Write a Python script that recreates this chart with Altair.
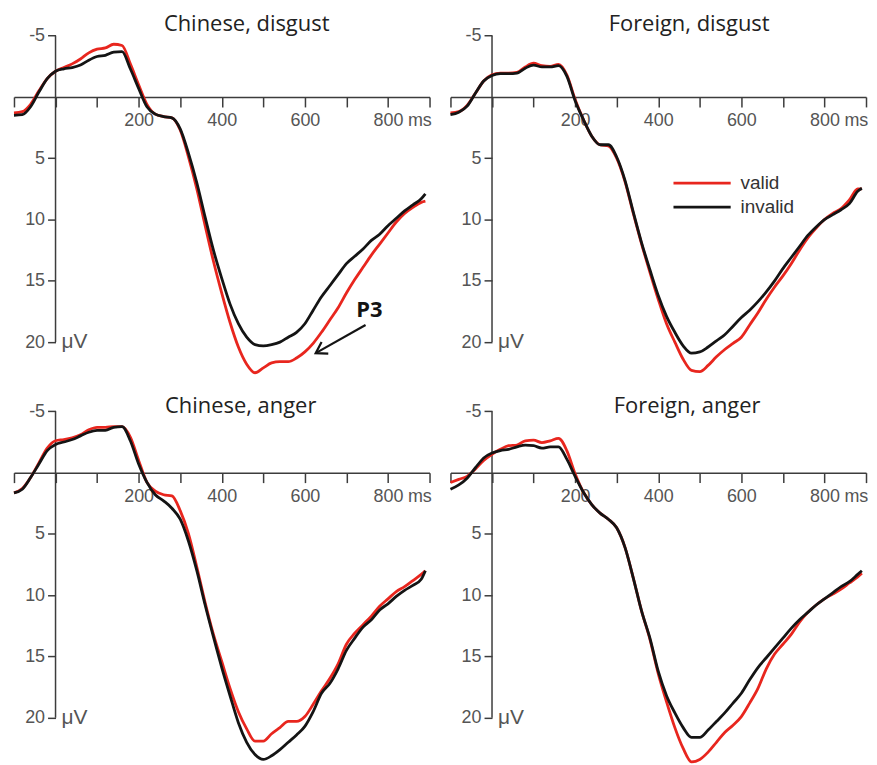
import altair as alt
import pandas as pd

# ---------------- data ----------------
times = [-100, -80, -60, -40, -20, 0, 20, 40, 60, 80, 100, 120, 140, 160, 180,
         200, 220, 240, 260, 280, 300, 320, 340, 360, 380, 400, 420, 440, 460,
         480, 500, 520, 540, 560, 580, 600, 620, 640, 660, 680, 700, 720, 740,
         760, 780, 800, 820, 840, 860, 880, 890]

# Chinese, disgust
cd_valid = [1.3, 1.2, 0.6, -0.5, -1.5, -2.1, -2.4, -2.7, -3.1, -3.6, -3.9, -4.0, -4.3, -4.2, -2.7,
            -1.0, 0.6, 1.4, 1.6, 1.7, 2.7, 4.9, 7.5, 10.5, 13.4, 16.0, 18.4, 20.4, 21.8,
            22.5, 22.1, 21.7, 21.6, 21.6, 21.3, 20.8, 20.1, 19.2, 18.2, 17.2, 16.0, 14.9, 13.9,
            12.9, 12.0, 11.1, 10.2, 9.5, 9.0, 8.6, 8.5]
cd_invalid = [1.5, 1.45, 0.8, -0.4, -1.5, -2.1, -2.3, -2.4, -2.6, -3.0, -3.3, -3.4, -3.65, -3.7, -2.3,
              -0.7, 0.8, 1.4, 1.6, 1.7, 2.6, 4.6, 7.0, 9.8, 12.5, 14.8, 16.9, 18.5, 19.6,
              20.2, 20.3, 20.2, 20.0, 19.6, 19.2, 18.5, 17.4, 16.3, 15.4, 14.5, 13.6, 13.0, 12.4,
              11.7, 11.2, 10.5, 9.9, 9.3, 8.8, 8.3, 7.9]

# Foreign, disgust
fd_valid = [1.3, 1.2, 0.7, -0.3, -1.3, -1.8, -1.95, -1.95, -2.0, -2.45, -2.75, -2.55, -2.5, -2.65, -1.8,
            0.2, 1.85, 3.2, 3.9, 4.0, 5.0, 6.9, 9.5, 12.0, 14.3, 16.5, 18.5, 20.0, 21.4,
            22.3, 22.4, 21.9, 21.2, 20.6, 20.1, 19.6, 18.6, 17.6, 16.5, 15.5, 14.6, 13.6, 12.5,
            11.5, 10.7, 10.0, 9.5, 9.1, 8.4, 7.5, 7.5]
fd_invalid = [1.45, 1.25, 0.75, -0.3, -1.3, -1.75, -1.9, -1.9, -1.95, -2.35, -2.6, -2.45, -2.45, -2.55, -1.7,
              0.3, 1.85, 3.2, 3.9, 3.9, 4.9, 6.8, 9.4, 11.9, 14.1, 16.2, 17.9, 19.2, 20.3,
              20.9, 20.8, 20.4, 19.9, 19.4, 18.7, 18.0, 17.4, 16.7, 15.9, 15.0, 14.0, 13.1, 12.2,
              11.3, 10.6, 10.0, 9.6, 9.2, 8.7, 7.7, 7.45]

# Chinese, anger
ca_valid = [1.65, 1.3, 0.4, -0.8, -2.0, -2.6, -2.7, -2.85, -3.1, -3.5, -3.7, -3.7, -3.75, -3.75, -2.9,
            -1.0, 0.8, 1.5, 1.8, 1.9, 3.1, 5.0, 7.7, 10.6, 13.2, 15.4, 17.6, 19.5, 20.9,
            21.9, 21.9, 21.3, 20.8, 20.3, 20.3, 19.9, 18.9, 17.8, 16.8, 15.6, 14.0, 13.1, 12.4,
            11.7, 10.9, 10.3, 9.7, 9.3, 8.8, 8.3, 8.0]
ca_invalid = [1.65, 1.35, 0.4, -0.7, -1.8, -2.3, -2.5, -2.7, -3.0, -3.3, -3.45, -3.45, -3.7, -3.75, -2.6,
              -0.7, 0.8, 1.8, 2.3, 2.9, 3.8, 5.6, 8.0, 10.8, 13.4, 15.9, 18.2, 20.4, 22.0,
              23.0, 23.4, 23.1, 22.6, 22.0, 21.4, 20.7, 19.5, 18.0, 17.2, 16.0, 14.5, 13.5, 12.6,
              12.0, 11.2, 10.7, 10.1, 9.6, 9.2, 8.7, 8.0]

# Foreign, anger
fa_valid = [0.8, 0.55, 0.3, -0.3, -1.0, -1.5, -1.9, -2.2, -2.25, -2.6, -2.65, -2.45, -2.6, -2.8, -1.8,
            0.1, 1.6, 2.6, 3.3, 3.8, 4.5, 6.1, 8.6, 11.3, 13.6, 16.4, 18.7, 20.8, 22.5,
            23.6, 23.4, 22.8, 22.0, 21.2, 20.6, 19.9, 18.8, 17.6, 16.0, 14.8, 14.0, 13.2, 12.2,
            11.4, 10.8, 10.3, 9.9, 9.5, 9.0, 8.5, 8.2]
fa_invalid = [1.35, 1.0, 0.45, -0.4, -1.2, -1.6, -1.8, -1.9, -2.1, -2.25, -2.2, -2.0, -2.1, -2.1, -1.1,
              0.3, 1.6, 2.6, 3.3, 3.8, 4.5, 6.1, 8.6, 11.3, 13.5, 16.2, 18.2, 19.6, 20.8,
              21.6, 21.6, 21.0, 20.3, 19.6, 18.8, 18.0, 16.9, 15.9, 15.1, 14.3, 13.5, 12.7, 12.0,
              11.4, 10.8, 10.3, 9.8, 9.3, 8.9, 8.3, 8.0]

conditions = ["valid", "invalid"]
titles = ["Chinese, disgust", "Foreign, disgust", "Chinese, anger", "Foreign, anger"]
x_ticks = [-100, 0, 100, 200, 300, 400, 500, 600, 700, 800, 900]
x_labelled = [200, 400, 600, 800]
y_ticks = [-5, 5, 10, 15, 20]
y_axis_span = [-5, 20]
unit_label = "μV"
time_unit = {"x": 800, "y": 0, "t": "ms"}

# P3 annotation (data coordinates)
p3_label = {"x": 755, "y": 17.4, "t": "P3"}
p3_arrow = {"x": 746, "y": 18.6, "x2": 626, "y2": 20.9}

# ---------------- styling ----------------
RED = "#e8261e"
BLACK = "#141414"
AX = "#3c3c3c"
LAB = "#555555"
W, H = 417, 377
X_DOM = [-100, 900]
Y_DOM = [-7.15, 23.5]
ZERO_PX = H * (0 - Y_DOM[0]) / (Y_DOM[1] - Y_DOM[0])
X0_PX = W * (0 - X_DOM[0]) / (X_DOM[1] - X_DOM[0])
TICK = 10
LPAD = 5

xscale = alt.Scale(domain=X_DOM, nice=False, zero=False)
yscale = alt.Scale(domain=Y_DOM, reverse=True, nice=False, zero=False)

x_label_expr = "indexof([" + ",".join(str(v) for v in x_labelled) + "], datum.value) >= 0 ? datum.label : ''"

x_axis = alt.Axis(
    orient="bottom", offset=-(H - ZERO_PX), values=x_ticks, grid=False, title=None,
    tickSize=TICK, tickWidth=1.5, tickColor=AX, domainColor=AX, domainWidth=1.5,
    labelExpr=x_label_expr, labelPadding=LPAD, labelFontSize=18, labelBaseline="top",
    labelFont="Liberation Sans", labelColor=LAB, labelOverlap=False, labelFlush=False,
)
y_axis = alt.Axis(
    orient="left", offset=-X0_PX, values=y_ticks, grid=False, title=None, domain=False,
    tickSize=8, tickWidth=1.5, tickColor=AX, labelPadding=3, labelFontSize=18,
    labelExpr="datum.value < 0 ? '-' + format(-datum.value, 'd') : datum.label",
    labelFont="Liberation Sans", labelColor=LAB, labelOverlap=False, labelFlush=False,
)


def X(field="x"):
    return alt.X(f"{field}:Q", scale=xscale, axis=x_axis)


def Y(field="y"):
    return alt.Y(f"{field}:Q", scale=yscale, axis=y_axis)


def make_panel(title, valid, invalid, dx, offset, legend=False, p3=False):
    df = pd.DataFrame({
        "x": times + times,
        "y": valid + invalid,
        "cond": [conditions[0]] * len(times) + [conditions[1]] * len(times),
    })
    base = alt.Chart(df)
    layers = []
    axis_df = pd.DataFrame({"x": [0], "y": [y_axis_span[0]], "y2": [y_axis_span[1]]})
    layers.append(
        alt.Chart(axis_df).mark_rule(color=AX, strokeWidth=1.5).encode(
            x=X(), y=Y(), y2="y2:Q")
    )
    for cond, col in zip(conditions, [RED, BLACK]):
        if legend:
            color = alt.Color(
                "cond:N",
                scale=alt.Scale(domain=conditions, range=[RED, BLACK]),
                legend=alt.Legend(
                    orient="none", legendX=243, legendY=165, title=None,
                    symbolType="M-4.1,0H4.1", symbolSize=196, symbolStrokeWidth=2.8,
                    labelFontSize=19, labelFont="Liberation Sans", labelColor="#333333",
                    labelOffset=29, rowPadding=4, padding=0,
                ),
            )
        else:
            color = alt.value(col)
        layers.append(
            base.transform_filter(alt.datum.cond == cond)
            .mark_line(strokeWidth=2.8, interpolate="monotone")
            .encode(x=X(), y=Y(), color=color)
        )
    unit_df = pd.DataFrame({"x": [0], "y": [y_axis_span[1]], "t": [unit_label]})
    layers.append(
        alt.Chart(unit_df).mark_text(
            align="left", baseline="middle", dx=6, fontSize=21,
            font="Liberation Sans", color=LAB,
        ).encode(x=X(), y=Y(), text="t:N")
    )
    ms_df = pd.DataFrame([time_unit])
    layers.append(
        alt.Chart(ms_df).mark_text(
            align="left", baseline="top", dx=20, dy=TICK + LPAD, fontSize=18,
            font="Liberation Sans", color=LAB,
        ).encode(x=X(), y=Y(), text="t:N")
    )
    if p3:
        ldf = pd.DataFrame([p3_label])
        layers.append(
            alt.Chart(ldf).mark_text(
                font="Open Sans", fontWeight="bold", fontSize=22, color=BLACK,
                align="center", baseline="middle",
            ).encode(x=X(), y=Y(), text="t:N")
        )
        adf = pd.DataFrame([p3_arrow])
        layers.append(
            alt.Chart(adf).mark_rule(color=BLACK, strokeWidth=2.2).encode(
                x=X(), y=Y(), x2="x2:Q", y2="y2:Q")
        )
        layers.append(
            alt.Chart(adf).mark_point(
                shape="M1.6,-1L0,0L1.6,1", angle=330, size=180, filled=False,
                strokeWidth=2.2, color=BLACK, opacity=1,
            ).encode(x=X("x2"), y=Y("y2"))
        )
    return alt.layer(*layers).properties(
        width=W, height=H,
        title=alt.TitleParams(
            title, fontSize=22, font="Open Sans", fontWeight="normal", color="#222222",
            anchor="middle", dx=dx, offset=offset, baseline="alphabetic", frame="group",
        ),
    )


p1 = make_panel(titles[0], cd_valid, cd_invalid, 25, -44, p3=True)
p2 = make_panel(titles[1], fd_valid, fd_invalid, 31, -44, legend=True)
p3 = make_panel(titles[2], ca_valid, ca_invalid, 19, -50)
p4 = make_panel(titles[3], fa_valid, fa_invalid, 29, -50)

chart = alt.concat(
    p1, p2, p3, p4, columns=2, spacing={"row": 0, "column": 21}, bounds="flush"
).resolve_scale(color="independent").resolve_legend(color="independent").properties(
    padding={"left": 0, "top": 0, "right": 0, "bottom": 0},
    background="white",
).configure_view(stroke=None)

chart.save("out.html", embed_options={"renderer": "svg", "actions": False})
